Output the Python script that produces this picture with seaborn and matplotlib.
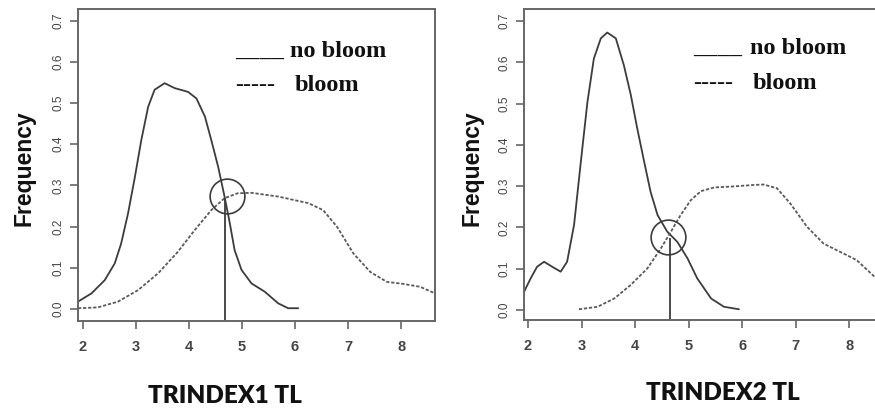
import matplotlib
matplotlib.use("Agg")
import matplotlib.pyplot as plt
import seaborn as sns
import numpy as np

# ---- data ----
left_nobloom_x = [1.906, 2.16, 2.41, 2.60, 2.72, 2.85, 2.98, 3.10, 3.23, 3.35, 3.54, 3.73, 3.98,
                  4.14, 4.30, 4.42, 4.55, 4.67, 4.77, 4.86, 4.99, 5.18, 5.43, 5.68, 5.87, 6.06]
left_nobloom_y = [0.018, 0.038, 0.070, 0.111, 0.159, 0.232, 0.321, 0.41, 0.491, 0.532, 0.548, 0.536, 0.527,
                  0.511, 0.467, 0.41, 0.345, 0.273, 0.208, 0.143, 0.095, 0.062, 0.042, 0.014, 0.002, 0.002]
left_bloom_x = [1.906, 2.28, 2.66, 3.04, 3.42, 3.79, 4.11, 4.42, 4.67, 4.92, 5.18, 5.68, 6.25,
                6.53, 6.79, 7.10, 7.42, 7.73, 8.04, 8.36, 8.64]
left_bloom_y = [0.002, 0.004, 0.018, 0.046, 0.087, 0.139, 0.192, 0.24, 0.269, 0.281, 0.282, 0.273, 0.257,
                0.24, 0.20, 0.135, 0.09, 0.066, 0.061, 0.054, 0.038]

right_nobloom_x = [1.925, 2.05, 2.17, 2.30, 2.45, 2.61, 2.73, 2.86, 2.98, 3.11, 3.23, 3.36, 3.48,
                   3.64, 3.79, 3.92, 4.04, 4.17, 4.29, 4.42, 4.60, 4.79, 4.98, 5.16, 5.42, 5.66, 5.94]
right_nobloom_y = [0.044, 0.077, 0.105, 0.117, 0.105, 0.093, 0.117, 0.206, 0.351, 0.504, 0.609, 0.658, 0.672,
                   0.658, 0.593, 0.521, 0.44, 0.359, 0.286, 0.230, 0.19, 0.165, 0.125, 0.077, 0.028, 0.008, 0.002]
right_bloom_x = [2.95, 3.30, 3.61, 3.92, 4.23, 4.48, 4.67, 4.85, 5.04, 5.23, 5.48, 5.79, 6.22,
                 6.40, 6.65, 6.90, 7.21, 7.52, 7.83, 8.14, 8.47]
right_bloom_y = [0.002, 0.008, 0.028, 0.061, 0.101, 0.149, 0.19, 0.23, 0.266, 0.288, 0.297, 0.299, 0.303,
                 0.304, 0.295, 0.258, 0.202, 0.161, 0.141, 0.121, 0.081]

cutoff_x = [4.68, 4.65]
cutoff_y = [0.27, 0.175]
circle_x = [4.71, 4.61]
circle_y = [0.274, 0.177]

x_ticks = [2, 3, 4, 5, 6, 7, 8]
y_ticks = [0.0, 0.1, 0.2, 0.3, 0.4, 0.5, 0.6, 0.7]
x_labels = ["TRINDEX1 TL", "TRINDEX2 TL"]
y_label = "Frequency"
legend_labels = ["no bloom", "bloom"]

# ---- style ----
sns.set_style("white")
plt.rcParams["font.family"] = ["DejaVu Sans"]

W, H = 875, 408
fig = plt.figure(figsize=(W / 100, H / 100), dpi=100)

def px(x, y):
    return x / W, 1 - y / H

solid_c = "#3c3c3c"
dash_c = "#5a5a5a"
spine_c = "#666666"
tick_font = ["Liberation Sans", "DejaVu Sans"]

panels = [
    dict(rect=(78, 9, 435, 321), xlim=(1.906, 8.64), ylim=(-0.029, 0.728),
         nb=(left_nobloom_x, left_nobloom_y), b=(left_bloom_x, left_bloom_y)),
    dict(rect=(524, 9, 876, 320), xlim=(1.925, 8.50), ylim=(-0.024, 0.729),
         nb=(right_nobloom_x, right_nobloom_y), b=(right_bloom_x, right_bloom_y)),
]

for i, p in enumerate(panels):
    x0, y0, x1, y1 = p["rect"]
    ax = fig.add_axes([x0 / W, 1 - y1 / H, (x1 - x0) / W, (y1 - y0) / H])
    sns.lineplot(x=p["nb"][0], y=p["nb"][1], ax=ax, color=solid_c, linewidth=1.3,
                 sort=False, estimator=None)
    sns.lineplot(x=p["b"][0], y=p["b"][1], ax=ax, color=dash_c, linewidth=1.3,
                 sort=False, estimator=None, linestyle=(0, (1.8, 1.0)))
    ax.set_xlim(*p["xlim"])
    ax.set_ylim(*p["ylim"])
    ax.vlines(cutoff_x[i], p["ylim"][0], cutoff_y[i], color=solid_c, linewidth=1.3)
    ax.plot([circle_x[i]], [circle_y[i]], marker="o", markersize=25, markerfacecolor="none",
            markeredgecolor=solid_c, markeredgewidth=1.2, linestyle="none")
    ax.set_xticks(x_ticks)
    ax.set_xticklabels([str(v) for v in x_ticks])
    ax.set_yticks(y_ticks)
    ax.set_yticklabels([f"{v:.1f}" for v in y_ticks], rotation=90, va="center")
    ax.tick_params(axis="both", direction="out", length=6, width=1.2, color=spine_c,
                   labelcolor="#444444", bottom=True, left=True)
    for lab in ax.get_xticklabels():
        lab.set_fontfamily(tick_font)
        lab.set_fontsize(10.5)
        lab.set_fontweight("bold")
    for lab in ax.get_yticklabels():
        lab.set_fontfamily(tick_font)
        lab.set_fontsize(8.5)
    ax.tick_params(axis="x", pad=8)
    ax.tick_params(axis="y", pad=4)
    for s in ax.spines.values():
        s.set_color(spine_c)
        s.set_linewidth(1.4)
    ax.set_xlabel("")
    ax.set_ylabel("")

# y labels
for (xc, yc) in [(24, 168), (472, 168)]:
    fig.text(*px(xc, yc), y_label, rotation=90, ha="center", va="center",
             fontsize=16.5, fontweight="bold", family=["Liberation Sans", "DejaVu Sans"],
             color="#111111")

# x labels
for lab, (xc, yc) in zip(x_labels, [(225, 396), (723, 393)]):
    fig.text(*px(xc, yc), lab, ha="center", va="center", fontsize=17.5, fontweight="heavy",
             family=["Lato", "DejaVu Sans"], color="#111111")

# legend texts
serif = ["Liberation Serif", "DejaVu Serif"]
leg = [
    # (key x, label x, baseline) for no bloom, bloom
    [(235, 290, 57), (235, 295, 91)],
    [(693, 750, 54), (693, 753, 89)],
]
for panel in leg:
    for j, (kx, lx, by) in enumerate(panel):
        key = "____" if j == 0 else "-----"
        fig.text(*px(kx, by), key, ha="left", va="baseline", fontsize=17.5,
                 fontweight="bold" if j == 0 else "normal", family=serif, color="#111111")
        fig.text(*px(lx, by), legend_labels[j], ha="left", va="baseline", fontsize=17.5,
                 fontweight="bold", family=serif, color="#111111")

fig.savefig("out.png", dpi=100)
